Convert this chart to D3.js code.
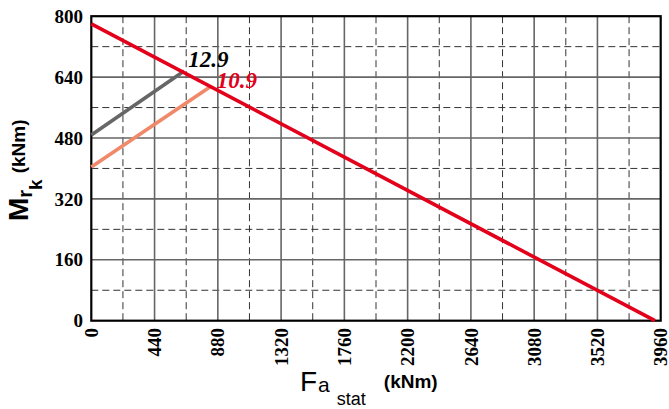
<!DOCTYPE html>
<html>
<head>
<meta charset="utf-8">
<script src="https://cdn.jsdelivr.net/npm/d3@7"></script>
<style>
html,body{margin:0;padding:0;background:#fff;}
svg{display:block;}
.serif{font-family:"Liberation Serif","Times New Roman",Times,"DejaVu Serif",serif;}
.sans{font-family:"Liberation Sans",Arial,Helvetica,sans-serif;}
</style>
</head>
<body>
<svg id="chart" width="669" height="409"></svg>
<script>
// ---- data ----
const xTicks = [0, 440, 880, 1320, 1760, 2200, 2640, 3080, 3520, 3960];
const yTicks = [0, 160, 320, 480, 640, 800];
const xDomain = [0, 3960];
const yDomain = [0, 800];
// limit line (red)
const limitX = [0, 3920];
const limitY = [780, 0];
// grade 12.9 (gray)
const g129X = [0, 646];
const g129Y = [488, 656];
// grade 10.9 (orange)
const g109X = [0, 830];
const g109Y = [404, 615];
const labels = ["12.9", "10.9"];

// ---- layout ----
const svg = d3.select("#chart");
const L = 91.3, R = 660.7, T = 16.2, B = 320.7;
const x = d3.scaleLinear().domain(xDomain).range([L, R]);
const y = d3.scaleLinear().domain(yDomain).range([B, T]);

const g = svg.append("g");

// half-step dashed grid
const xHalf = xTicks.slice(0, -1).map((v, i) => (v + xTicks[i + 1]) / 2);
const yHalf = yTicks.slice(0, -1).map((v, i) => (v + yTicks[i + 1]) / 2);

g.selectAll(".vd").data(xHalf).join("line")
  .attr("x1", d => x(d)).attr("x2", d => x(d)).attr("y1", T).attr("y2", B)
  .attr("stroke", "#333").attr("stroke-width", 1).attr("stroke-dasharray", "7,4");
g.selectAll(".hd").data(yHalf).join("line")
  .attr("y1", d => y(d)).attr("y2", d => y(d)).attr("x1", L).attr("x2", R)
  .attr("stroke", "#333").attr("stroke-width", 1).attr("stroke-dasharray", "7,4");

// solid grid
g.selectAll(".vs").data(xTicks.slice(1, -1)).join("line")
  .attr("x1", d => x(d)).attr("x2", d => x(d)).attr("y1", T).attr("y2", B)
  .attr("stroke", "#666").attr("stroke-width", 1.6);
g.selectAll(".hs").data(yTicks.slice(1, -1)).join("line")
  .attr("y1", d => y(d)).attr("y2", d => y(d)).attr("x1", L).attr("x2", R)
  .attr("stroke", "#666").attr("stroke-width", 1.6);

// frame
g.append("rect").attr("x", L).attr("y", T).attr("width", R - L).attr("height", B - T)
  .attr("fill", "none").attr("stroke", "#000").attr("stroke-width", 2.2);

// lines
const line = d3.line().x(d => x(d[0])).y(d => y(d[1]));
function series(xs, ys, color) {
  g.append("path").datum(xs.map((v, i) => [v, ys[i]]))
    .attr("d", line).attr("fill", "none").attr("stroke", color)
    .attr("stroke-width", 3.6);
}
series(g129X, g129Y, "#666666");
series(g109X, g109Y, "#f0896a");
series(limitX, limitY, "#e3001b");

// labels
g.append("text").attr("class", "serif").attr("x", x(g129X[1]) + 4).attr("y", y(g129Y[1]) - 4)
  .attr("font-weight", "bold").attr("font-style", "italic").attr("font-size", 23)
  .attr("fill", "#000").text(labels[0]);
g.append("text").attr("class", "serif").attr("x", x(g109X[1]) + 6).attr("y", y(g109Y[1]) + 1)
  .attr("font-weight", "bold").attr("font-style", "italic").attr("font-size", 23)
  .attr("fill", "#e3001b").text(labels[1]);

// tick labels
g.selectAll(".yt").data(yTicks).join("text").attr("class", "serif")
  .attr("x", 83).attr("y", d => y(d)).attr("dy", "0.35em")
  .attr("text-anchor", "end").attr("font-weight", "bold")
  .attr("font-size", 19).text(d => d);
g.selectAll(".xt").data(xTicks).join("text").attr("class", "serif")
  .attr("transform", d => `translate(${x(d)},328) rotate(-90)`)
  .attr("dy", "0.35em")
  .attr("text-anchor", "end").attr("font-weight", "bold")
  .attr("font-size", 19).text(d => d);

// axis titles
const yt = svg.append("text").attr("class", "sans").attr("transform", "translate(28,221) rotate(-90)")
  .attr("font-weight", "bold");
yt.append("tspan").attr("font-size", 28).text("M");
yt.append("tspan").attr("font-size", 20).attr("dy", 4).text("r");
yt.append("tspan").attr("font-size", 19).attr("dy", 10).text("k");
yt.append("tspan").attr("font-size", 19).attr("dy", -17).attr("dx", 6).text("(kNm)");

const xt = svg.append("text").attr("class", "sans").attr("transform", "translate(300,391)");
xt.append("tspan").attr("font-size", 28).text("F");
xt.append("tspan").attr("font-size", 21).attr("dy", 1).attr("dx", 1).text("a");
xt.append("tspan").attr("font-size", 18).attr("dy", 13).attr("dx", 7).text("stat");
xt.append("tspan").attr("font-size", 19).attr("font-weight", "bold").attr("dy", -17).attr("dx", 18).text("(kNm)");
</script>
</body>
</html>
